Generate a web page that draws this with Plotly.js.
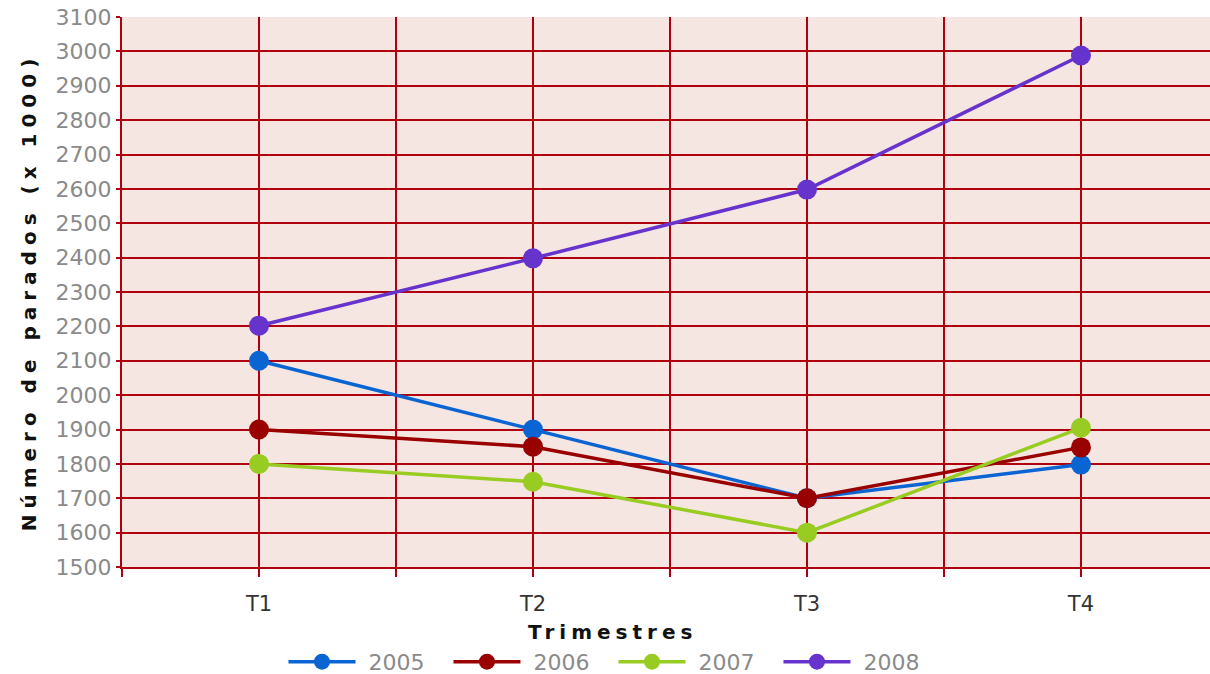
<!DOCTYPE html>
<html>
<head>
<meta charset="utf-8">
<script src="https://cdn.plot.ly/plotly-3.0.1.min.js"></script>
<style>
html,body{margin:0;padding:0;overflow:hidden;background:#fff;}
#chart{width:1210px;height:674px;}
.g-ytitle text{letter-spacing:6px;}
.annotation-text{letter-spacing:5px;}
.legendtext{transform:translateX(8px);}
</style>
</head>
<body>
<div id="chart"></div>
<script>
const categories = ["T1", "T2", "T3", "T4"];
const years = ["2005", "2006", "2007", "2008"];
const values2005 = [2100, 1900, 1700, 1798];
const values2006 = [1900, 1850, 1700, 1848];
const values2007 = [1800, 1748, 1600, 1905];
const values2008 = [2202, 2398, 2598, 2988];
const colors = ["#0a64d2", "#990000", "#99cc22", "#6633cc"];
const yTicks = [1500,1600,1700,1800,1900,2000,2100,2200,2300,2400,2500,2600,2700,2800,2900,3000,3100];

const series = [values2005, values2006, values2007, values2008];
const xIdx = categories.map((c, i) => i);
const gridColor = "#b00010";

const traces = series.map((vals, k) => ({
  type: "scatter",
  mode: "lines+markers",
  name: years[k],
  x: xIdx,
  y: vals,
  line: {color: colors[k], width: 3.5},
  marker: {color: colors[k], size: 20},
  hoverinfo: "x+y+name"
}));

const layout = {
  width: 1210,
  height: 674,
  margin: {l: 122, r: 0, t: 17, b: 107},
  paper_bgcolor: "#ffffff",
  plot_bgcolor: "#f5e6e2",
  font: {family: "DejaVu Sans, Verdana, sans-serif"},
  showlegend: true,
  legend: {
    orientation: "h",
    xref: "container", yref: "container",
    x: 0.507, xanchor: "center",
    y: 0.018, yanchor: "middle",
    font: {size: 22, color: "#8a8a8a"},
    itemwidth: 67,
    entrywidth: 83,
    bgcolor: "rgba(0,0,0,0)"
  },
  xaxis: {
    type: "linear",
    range: [-0.5, 3.471],
    tickmode: "array",
    tickvals: xIdx,
    ticktext: categories,
    tickfont: {size: 21, color: "#333333"},
    ticks: "outside",
    ticklen: 8,
    tickwidth: 2,
    tickcolor: gridColor,
    ticklabelstandoff: 9,
    showgrid: true,
    gridcolor: gridColor,
    gridwidth: 2,
    minor: {
      tickmode: "linear",
      tick0: -0.5,
      dtick: 1,
      showgrid: true,
      gridcolor: gridColor,
      gridwidth: 2,
      ticks: "outside",
      ticklen: 8,
      tickwidth: 2,
      tickcolor: gridColor
    },
    showline: true,
    linecolor: gridColor,
    linewidth: 2,
    zeroline: false,
    fixedrange: true
  },
  yaxis: {
    range: [1500, 3100],
    tickmode: "array",
    tickvals: yTicks,
    ticktext: yTicks.map(String),
    tickfont: {size: 22, color: "#8a8a8a"},
    ticks: "outside",
    ticklen: 4,
    tickwidth: 2,
    tickcolor: gridColor,
    ticklabelstandoff: 0,
    showgrid: true,
    gridcolor: gridColor,
    gridwidth: 2,
    showline: true,
    linecolor: gridColor,
    linewidth: 2,
    zeroline: false,
    fixedrange: true,
    title: {
      text: "Número de parados (x 1000)",
      font: {size: 20, color: "#111111", weight: "bold"},
      standoff: 14
    }
  },
  annotations: [{
    text: "Trimestres",
    xref: "paper", yref: "paper",
    x: (612 - 122) / 1088, y: -(632 - 567) / 550,
    xanchor: "center", yanchor: "middle",
    showarrow: false,
    font: {size: 20, color: "#111111", weight: "bold"}
  }]
};

Plotly.newPlot("chart", traces, layout, {displayModeBar: false, staticPlot: false});
</script>
</body>
</html>
